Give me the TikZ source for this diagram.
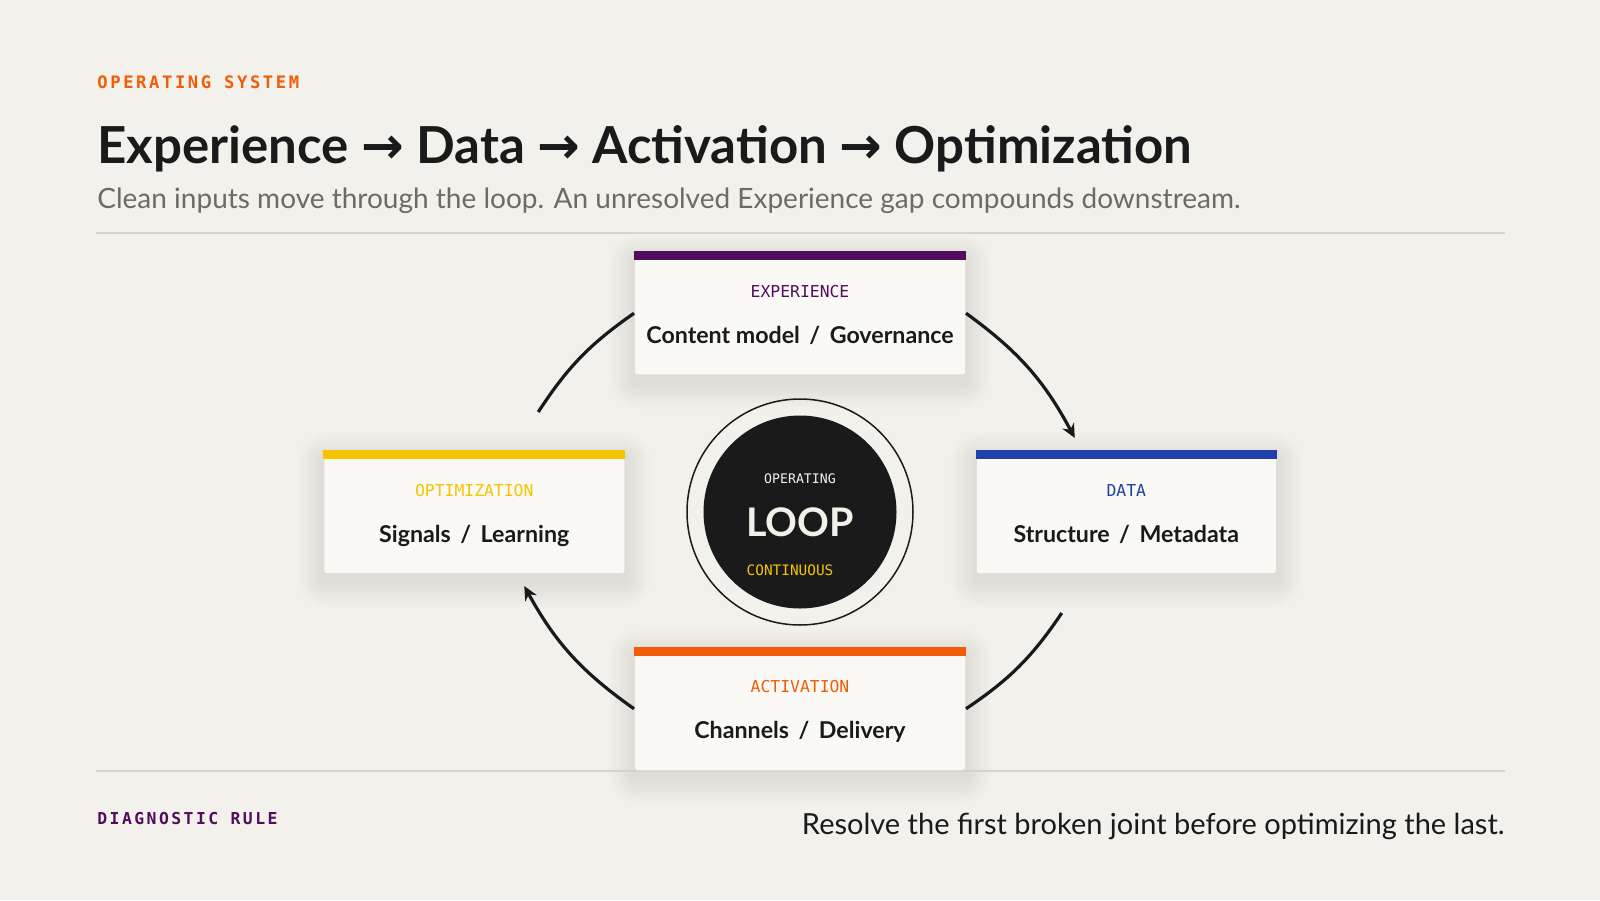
\documentclass[tikz,border=0pt]{standalone}
\usepackage{fontspec}
\setmainfont{Lato}
\newfontfamily\monofont{DejaVu Sans Mono}
\newfontfamily\kickerfont{DejaVu Sans Mono}[LetterSpace=15]
\newfontfamily\arrowfont{DejaVu Sans}
\usetikzlibrary{positioning,calc,arrows.meta}

\definecolor{paper}{HTML}{F3F1EB}
\definecolor{cardfill}{HTML}{FAF9F5}
\definecolor{cardline}{HTML}{E3DED4}
\definecolor{rulegray}{HTML}{D8D3CA}
\definecolor{ink}{HTML}{1A1A1A}
\definecolor{muted}{HTML}{6E6A64}
\definecolor{expink}{HTML}{520D5E}
\definecolor{dataink}{HTML}{1F40AA}
\definecolor{actink}{HTML}{F25C05}
\definecolor{optink}{HTML}{F5C400}
\definecolor{hubtext}{HTML}{F3F0EA}

\pgfdeclarelayer{shade}
\pgfsetlayers{shade,main}

\newcommand\thento{{\arrowfont\bfseries →}}
% soft shadow under a card, on the shade layer
\newcommand\cardshadow[1]{%
  \begin{pgfonlayer}{shade}
    \foreach \k in {1,...,10}
      \fill[black, opacity=0.006, rounded corners=1.5*\k pt]
        ($(#1.north west)+(-2.5*\k,-2.5*\k+8)$) rectangle ($(#1.south east)+(2.5*\k,2.5*\k+8)$);
  \end{pgfonlayer}}

\begin{document}
\begin{tikzpicture}[x=0.5pt, y=-0.5pt,
    card/.style={rectangle, draw=cardline, fill=cardfill, line width=0.5pt, rounded corners=1.2pt,
      minimum height=61.5pt, inner sep=0pt},
    tag/.style={font=\monofont\fontsize{8.2}{10}\selectfont, inner sep=0pt, anchor=base},
    caption/.style={font=\bfseries\fontsize{11.6}{13}\selectfont, text=ink, inner sep=0pt, anchor=base},
    kicker/.style={font=\kickerfont\bfseries\fontsize{8.6}{10}\selectfont, inner sep=0pt, anchor=base west},
    rule/.style={draw=rulegray, line width=1pt},
    arc/.style={draw=ink, line width=1.6pt},
    tip/.style={-{Stealth[length=7pt, width=6.5pt]}}
  ]
  \useasboundingbox (0,0) rectangle (1600,900);
  \begin{pgfonlayer}{shade}
    \fill[paper] (0,0) rectangle (1600,900);
  \end{pgfonlayer}

  % header
  \node[kicker, text=actink] (kicker) at (97,88) {OPERATING SYSTEM};
  \node[anchor=base west, inner sep=0pt, text=ink, font=\bfseries\fontsize{25.5}{30}\selectfont] (title) at (97,163)
    {Experience \thento{} Data \thento{} Activation \thento{} Optimization};
  \node[anchor=base west, inner sep=0pt, text=muted, font=\fontsize{14}{17}\selectfont] (subtitle) at (97,208)
    {Clean inputs move through the loop. An unresolved Experience gap compounds downstream.};
  \draw[rule] (96,233) -- (1505,233);
  \draw[rule] (96,771) -- (1505,771);

  % hub
  \node[circle, draw=ink, line width=0.75pt, minimum size=113pt] (ring) at (800,512) {};
  \node[circle, fill=ink, minimum size=96.5pt] (hub) at (ring.center) {};
  \node[anchor=base, inner sep=0pt, text=hubtext, font=\monofont\fontsize{6.6}{8}\selectfont] (hub-top) at (800,483) {OPERATING};
  \node[anchor=base, inner sep=0pt, text=hubtext, font=\bfseries\fontsize{19.7}{22}\selectfont] (hub-main) at (800,536) {LOOP};
  \node[anchor=base, inner sep=0pt, text=optink, font=\monofont\fontsize{7.2}{9}\selectfont] (hub-bottom) at (790,575) {CONTINUOUS};

  % stages
  \node[card, minimum width=165.5pt] (exp) [above=11.5pt of ring] {};
  \node[card, minimum width=165.5pt] (act) [below=10.5pt of ring] {};
  \node[card, minimum width=150.5pt] (opt) [left=30.5pt of ring] {};
  \node[card, minimum width=150pt] (data) [right=31pt of ring] {};
  \cardshadow{exp}
  \cardshadow{act}
  \cardshadow{opt}
  \cardshadow{data}

  \fill[expink] (exp.north west) rectangle ($(exp.north east)+(0,9)$);
  \fill[dataink] (data.north west) rectangle ($(data.north east)+(0,9)$);
  \fill[actink] (act.north west) rectangle ($(act.north east)+(0,9)$);
  \fill[optink] (opt.north west) rectangle ($(opt.north east)+(0,9)$);

  \node[tag, text=expink] (exp-tag) at ($(exp.north)+(0,46)$) {EXPERIENCE};
  \node[caption] (exp-text) at ($(exp.north)+(0,92)$) {Content model \,/\, Governance};
  \node[tag, text=dataink] (data-tag) at ($(data.north)+(0,46)$) {DATA};
  \node[caption] (data-text) at ($(data.north)+(0,92)$) {Structure \,/\, Metadata};
  \node[tag, text=actink] (act-tag) at ($(act.north)+(0,46)$) {ACTIVATION};
  \node[caption] (act-text) at ($(act.north)+(0,92)$) {Channels \,/\, Delivery};
  \node[tag, text=optink] (opt-tag) at ($(opt.north)+(0,46)$) {OPTIMIZATION};
  \node[caption] (opt-text) at ($(opt.north)+(0,92)$) {Signals \,/\, Learning};

  % loop arcs
  \coordinate (opt-out) at ($(opt.north east)+(-87,-38)$);
  \coordinate (data-in) at ($(data.north west)+(99,-12)$);
  \coordinate (data-out) at ($(data.south west)+(86,39)$);
  \coordinate (opt-in) at ($(opt.south east)+(-101,12)$);
  \draw[arc] (opt-out) to[bend left=11] (exp.west);
  \draw[arc, tip] (exp.east) to[bend left=13] (data-in);
  \draw[arc] (data-out) to[bend left=11] (act.east);
  \draw[arc, tip] (act.west) to[bend left=13] (opt-in);

  % footer
  \node[kicker, text=expink, font=\kickerfont\bfseries\fontsize{8.2}{10}\selectfont] (rule-tag) at (97,824) {DIAGNOSTIC RULE};
  \node[anchor=base east, inner sep=0pt, text=ink, font=\fontsize{14.5}{17}\selectfont] (rule-text) at (1505,834)
    {Resolve the first broken joint before optimizing the last.};
\end{tikzpicture}
\end{document}
